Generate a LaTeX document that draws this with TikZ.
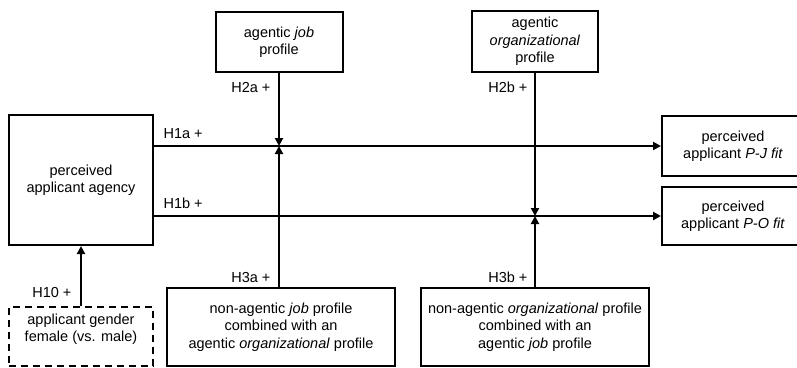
\documentclass[tikz,border=0pt]{standalone}
\usepackage{fontspec}
\setmainfont{Liberation Sans}
\usetikzlibrary{arrows.meta}
\tikzset{
	box/.style={draw, line width=2pt, align=center, inner sep=0pt},
	dashbox/.style={box, dash pattern=on 7pt off 5pt},
	link/.style={line width=2pt, -{Triangle[length=8pt,width=8pt]}},
	hyp/.style={anchor=base east},
}
\begin{document}
\begin{tikzpicture}[x=1pt,y=-1pt,font=\fontsize{14.5}{17.5}\selectfont]
	\clip (0,0) rectangle (797,367);
	% predictor and outcomes
	\node[box, minimum width=144, minimum height=130] (agency) at (81,180) {perceived\\ applicant agency};
	\node[box, minimum width=142, minimum height=60] (pj) at (733,146) {perceived\\ applicant \textit{P-J fit}};
	\node[box, minimum width=142, minimum height=58] (po) at (733,216) {perceived\\ applicant \textit{P-O fit}};
	% moderators
	\node[box, minimum width=127, minimum height=60] (job) at (279,42) {agentic \textit{job}\\ profile};
	\node[box, minimum width=126, minimum height=61] (org) at (535,41.5) {agentic\\ \textit{organizational}\\ profile};
	\node[box, minimum width=228, minimum height=78] (jobmix) at (281,327) {non-agentic \textit{job} profile\\ combined with an\\ agentic \textit{organizational} profile};
	\node[box, minimum width=228, minimum height=78] (orgmix) at (535,327) {non-agentic \textit{organizational} profile\\ combined with an\\ agentic \textit{job} profile};
	% control
	\node[dashbox, minimum width=144, minimum height=59] (gender) at (81,336.5) {};
	\node[align=center] (gendertext) at (81,329) {applicant gender\\ female (vs. male)};
	% meeting points
	\coordinate (mja) at (job.south |- pj.west);
	\coordinate (mob) at (org.south |- po.west);
	\draw[link] (agency.east |- pj.west) -- (pj.west);
	\draw[link] (agency.east |- po.west) -- (po.west);
	\draw[link] (job.south) -- (mja);
	\draw[link] (jobmix.north -| job.south) -- (mja);
	\draw[link] (org.south) -- (mob);
	\draw[link] (orgmix.north -| org.south) -- (mob);
	\draw[link] (gender.north) -- (agency.south);
	% hypotheses
	\node[anchor=base west] (h1a) at (160,138) {H1a +};
	\node[anchor=base west] (h1b) at (160,208) {H1b +};
	\node[hyp] (h2a) at (274,92) {H2a +};
	\node[hyp] (h2b) at (531,92) {H2b +};
	\node[hyp] (h3a) at (274,282) {H3a +};
	\node[hyp] (h3b) at (531,282) {H3b +};
	\node[hyp] (h10) at (75,297) {H10 +};
\end{tikzpicture}
\end{document}
